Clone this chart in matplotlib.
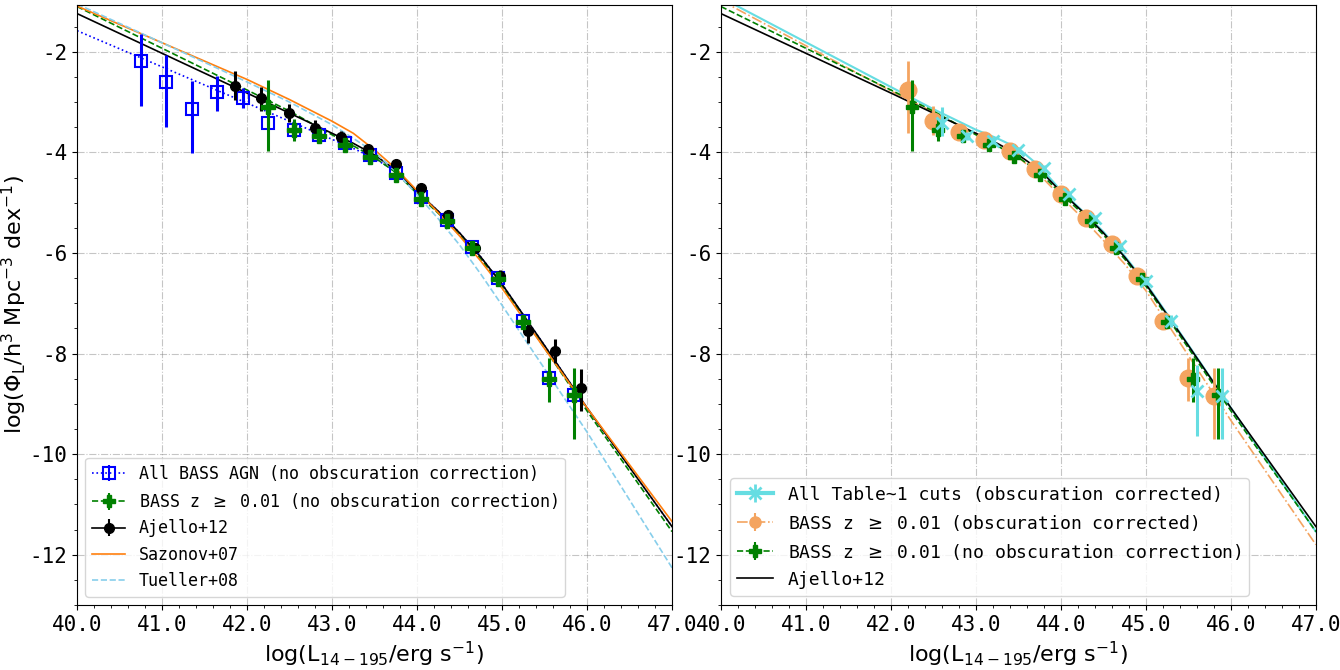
import numpy as np
import matplotlib
matplotlib.use('Agg')
import matplotlib.pyplot as plt
from matplotlib.ticker import MultipleLocator, FormatStrFormatter

plt.rcParams['font.family'] = 'monospace'
plt.rcParams['font.monospace'] = ['DejaVu Sans Mono']
plt.rcParams['axes.unicode_minus'] = False

# ---- data points (log L, log Phi, lower / upper error) ----
# All BASS AGN (no obscuration correction)
all_x = [40.75, 41.05, 41.35, 41.65, 41.95, 42.25, 42.55, 42.85, 43.15, 43.45,
         43.75, 44.05, 44.35, 44.65, 44.95, 45.25, 45.55, 45.85]
all_y = [-2.19, -2.60, -3.13, -2.80, -2.92, -3.42, -3.55, -3.65, -3.82, -4.05,
         -4.41, -4.88, -5.34, -5.88, -6.50, -7.36, -8.49, -8.82]
all_lo = [0.88, 0.89, 0.88, 0.37, 0.20, 0.08, 0.07, 0.05, 0.05, 0.05,
          0.05, 0.05, 0.05, 0.05, 0.06, 0.08, 0.12, 0.15]
all_hi = [0.55, 0.54, 0.54, 0.32, 0.20, 0.08, 0.07, 0.05, 0.05, 0.05,
          0.05, 0.05, 0.05, 0.05, 0.06, 0.08, 0.12, 0.15]

# BASS z >= 0.01 (no obscuration correction)
z01_x = [42.25, 42.55, 42.85, 43.15, 43.45, 43.75, 44.05, 44.35, 44.65, 44.95,
         45.25, 45.55, 45.85]
z01_y = [-3.09, -3.55, -3.68, -3.85, -4.10, -4.45, -4.92, -5.37, -5.90, -6.52,
         -7.38, -8.50, -8.83]
z01_lo = [0.89, 0.23, 0.08, 0.07, 0.06, 0.06, 0.06, 0.06, 0.07, 0.08, 0.12, 0.47, 0.87]
z01_hi = [0.53, 0.22, 0.08, 0.07, 0.06, 0.06, 0.06, 0.06, 0.07, 0.08, 0.12, 0.41, 0.54]

# Ajello+12
aj_x = [41.86, 42.16, 42.49, 42.80, 43.11, 43.42, 43.75, 44.05, 44.36, 44.68,
        44.98, 45.30, 45.62, 45.93]
aj_y = [-2.68, -2.92, -3.22, -3.52, -3.70, -3.93, -4.24, -4.70, -5.24, -5.90,
        -6.45, -7.56, -7.94, -8.69]
aj_lo = [0.27, 0.25, 0.17, 0.15, 0.12, 0.10, 0.08, 0.06, 0.06, 0.10, 0.14, 0.23, 0.25, 0.46]
aj_hi = [0.29, 0.22, 0.19, 0.17, 0.12, 0.10, 0.08, 0.06, 0.06, 0.10, 0.12, 0.23, 0.23, 0.38]

# BASS z >= 0.01 (obscuration corrected)
corr_x = [42.2, 42.5, 42.8, 43.1, 43.4, 43.7, 44.0, 44.3, 44.6, 44.9, 45.2, 45.5, 45.8]
corr_y = [-2.76, -3.37, -3.60, -3.75, -3.98, -4.34, -4.83, -5.31, -5.82, -6.45,
          -7.36, -8.49, -8.84]
corr_lo = [0.86, 0.28, 0.08, 0.07, 0.06, 0.06, 0.06, 0.06, 0.07, 0.08, 0.12, 0.46, 0.86]
corr_hi = [0.57, 0.30, 0.08, 0.07, 0.06, 0.06, 0.06, 0.06, 0.07, 0.08, 0.12, 0.40, 0.55]

# All Table~1 cuts (obscuration corrected)
cut_x = [42.6, 42.9, 43.2, 43.5, 43.8, 44.1, 44.4, 44.7, 45.0, 45.3, 45.6, 45.9]
cut_y = [-3.42, -3.68, -3.77, -3.96, -4.31, -4.82, -5.31, -5.87, -6.55, -7.36,
         -8.75, -8.85]
cut_lo = [0.26, 0.08, 0.07, 0.06, 0.06, 0.06, 0.06, 0.07, 0.08, 0.12, 0.88, 0.85]
cut_hi = [0.33, 0.08, 0.07, 0.06, 0.06, 0.06, 0.06, 0.07, 0.08, 0.12, 0.53, 0.56]

# ---- model curves ----
lum = [40.0, 41.0, 42.0, 42.5, 43.0, 43.25, 43.5, 43.75, 44.0, 44.25, 44.5, 44.75,
       45.0, 45.5, 46.0, 47.0]
fit_all = [-1.58, -2.30, -3.02, -3.38, -3.74, -3.92, -4.12, -4.38, -4.78, -5.17,
           -5.60, -6.08, -6.62, -7.84, -9.08, -11.44]
fit_z01 = [-1.10, -1.93, -2.76, -3.18, -3.65, -3.87, -4.10, -4.40, -4.82, -5.21,
           -5.64, -6.12, -6.66, -7.89, -9.14, -11.54]
fit_ajello = [-1.24, -2.03, -2.82, -3.22, -3.62, -3.82, -4.05, -4.35, -4.78, -5.17,
              -5.60, -6.08, -6.62, -7.84, -9.08, -11.44]
fit_sazonov = [-1.09, -1.82, -2.55, -2.95, -3.38, -3.62, -3.95, -4.32, -4.76, -5.20,
               -5.66, -6.16, -6.70, -7.90, -9.08, -11.34]
fit_tueller = [-1.05, -1.82, -2.60, -3.00, -3.45, -3.72, -4.00, -4.38, -4.84, -5.32,
               -5.84, -6.42, -7.04, -8.30, -9.56, -12.26]
fit_cuts = [-0.92, -1.81, -2.70, -3.14, -3.55, -3.72, -3.92, -4.28, -4.76, -5.16,
            -5.58, -6.06, -6.60, -7.83, -9.08, -11.54]
fit_corr = [-0.98, -1.88, -2.78, -3.20, -3.63, -3.85, -4.10, -4.45, -4.88, -5.30,
            -5.75, -6.22, -6.75, -8.04, -9.33, -11.80]

cyan = '#66dde2'
orange2 = 'sandybrown'
nan = [np.nan]

fig = plt.figure(figsize=(13.4, 6.7), dpi=100)
ax1 = fig.add_axes([0.0575, 0.097, 0.444, 0.8955])
ax2 = fig.add_axes([0.538, 0.097, 0.444, 0.8955])

# ---- left panel ----
ax1.plot(lum, fit_all, ':', color='blue', lw=1.2)
ax1.plot(lum, fit_z01, '--', color='green', lw=1.2)
ax1.plot(lum, fit_ajello, '-', color='black', lw=1.2)
ax1.plot(lum, fit_sazonov, '-', color='tab:orange', lw=1.2)
ax1.plot(lum, fit_tueller, '--', color='skyblue', lw=1.2)

ax1.errorbar(all_x, all_y, yerr=[all_lo, all_hi], fmt='s', color='blue', mfc='none',
             ms=9, mew=1.5, elinewidth=2.2, zorder=3)
ax1.errorbar(aj_x, aj_y, yerr=[aj_lo, aj_hi], fmt='o', color='black', ms=7,
             elinewidth=2.2, zorder=4)
ax1.errorbar(z01_x, z01_y, yerr=[z01_lo, z01_hi], fmt='P', color='green', ms=10,
             elinewidth=2.2, zorder=5)

h_all = ax1.errorbar(nan, nan, yerr=nan, fmt='s:', color='blue', mfc='none', ms=8,
                     mew=1.5, lw=1.2, elinewidth=1.5)
h_z01 = ax1.errorbar(nan, nan, yerr=nan, fmt='P--', color='green', ms=8, lw=1.2,
                     elinewidth=1.5)
h_aj = ax1.errorbar(nan, nan, yerr=nan, fmt='o-', color='black', ms=7, lw=1.2,
                    elinewidth=1.5)
h_saz, = ax1.plot(nan, nan, '-', color='tab:orange', lw=1.2)
h_tue, = ax1.plot(nan, nan, '--', color='skyblue', lw=1.2)
ax1.legend([h_all, h_z01, h_aj, h_saz, h_tue],
           ['All BASS AGN (no obscuration correction)',
            r'BASS z $\geq$ 0.01 (no obscuration correction)',
            'Ajello+12', 'Sazonov+07', 'Tueller+08'],
           loc='lower left', fontsize=12)

# ---- right panel ----
ax2.plot(lum, fit_cuts, '-', color=cyan, lw=1.5)
ax2.plot(lum, fit_corr, '-.', color=orange2, lw=1.2)
ax2.plot(lum, fit_z01, '--', color='green', lw=1.2)
ax2.plot(lum, fit_ajello, '-', color='black', lw=1.2)

ax2.errorbar(corr_x, corr_y, yerr=[corr_lo, corr_hi], fmt='o', color=orange2, ms=12,
             elinewidth=2, zorder=3)
ax2.errorbar(z01_x, z01_y, yerr=[z01_lo, z01_hi], fmt='P', color='green', ms=9,
             elinewidth=2.2, zorder=4)
ax2.errorbar(cut_x, cut_y, yerr=[cut_lo, cut_hi], fmt='x', color=cyan, ms=8, mew=2,
             elinewidth=2.2, zorder=5)

h_cut = ax2.errorbar(nan, nan, yerr=nan, fmt='x-', color=cyan, ms=8, mew=2, lw=3,
                     elinewidth=2)
h_corr = ax2.errorbar(nan, nan, yerr=nan, fmt='o-.', color=orange2, ms=8, lw=1.2,
                      elinewidth=1.5)
h_z01b = ax2.errorbar(nan, nan, yerr=nan, fmt='P--', color='green', ms=8, lw=1.2,
                      elinewidth=1.5)
h_ajb, = ax2.plot(nan, nan, '-', color='black', lw=1.2)
ax2.legend([h_cut, h_corr, h_z01b, h_ajb],
           ['All Table~1 cuts (obscuration corrected)',
            r'BASS z $\geq$ 0.01 (obscuration corrected)',
            r'BASS z $\geq$ 0.01 (no obscuration correction)',
            'Ajello+12'],
           loc='lower left', fontsize=13)

for ax in (ax1, ax2):
    ax.set_xlim(40, 47)
    ax.set_ylim(-13, -1.07)
    ax.xaxis.set_major_locator(MultipleLocator(1))
    ax.xaxis.set_minor_locator(MultipleLocator(0.2))
    ax.xaxis.set_major_formatter(FormatStrFormatter('%.1f'))
    ax.yaxis.set_major_locator(MultipleLocator(2))
    ax.yaxis.set_minor_locator(MultipleLocator(0.5))
    ax.tick_params(labelsize=15)
    ax.grid(True, which='major', ls='-.', color='gray', alpha=0.45, lw=0.8)
    ax.set_xlabel(r'log(L$_{14-195}$/erg s$^{-1}$)', fontsize=16, family='DejaVu Sans')

ax1.set_ylabel(r'log($\Phi_{\rm L}$/h$^3$ Mpc$^{-3}$ dex$^{-1}$)', fontsize=16,
               family='DejaVu Sans')
ax1.yaxis.set_label_coords(-0.08, 0.5)

fig.savefig('out.png', dpi=100)
